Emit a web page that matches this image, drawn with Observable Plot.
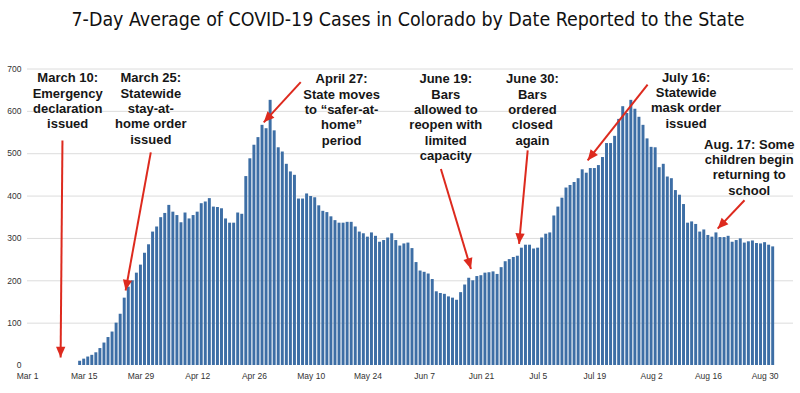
<!DOCTYPE html>
<html><head><meta charset="utf-8">
<script src="https://cdn.jsdelivr.net/npm/d3@7"></script>
<script src="https://cdn.jsdelivr.net/npm/@observablehq/plot@0.6"></script>
<style>
body{margin:0;background:#fff;}
#wrap{width:800px;height:393px;position:relative;overflow:hidden;background:#fff;}
#title{height:40px;position:relative;}
#t{position:absolute;left:408px;top:7px;transform-origin:center;white-space:nowrap;font-family:"DejaVu Sans Condensed","DejaVu Sans",sans-serif;font-size:20px;color:#111;}
#chart svg marker path{stroke:none;}
</style></head><body>
<div id="wrap"><div id="title"><span id="t">7-Day Average of COVID-19 Cases in Colorado by Date Reported to the State</span></div><div id="chart"></div></div>
<script>
const titleText = "7-Day Average of COVID-19 Cases in Colorado by Date Reported to the State";
const firstDay = "2020-03-14";
const cases = [
  10, 15, 20, 24, 30, 40, 53, 66, 79, 100,
  121, 159, 185, 200, 218, 237, 265, 285, 315, 327,
  349, 359, 378, 362, 354, 337, 360, 346, 354, 362,
  382, 386, 394, 374, 373, 370, 346, 336, 336, 360,
  357, 446, 488, 520, 538, 567, 559, 626, 554, 514,
  504, 475, 457, 449, 393, 393, 405, 399, 396, 377,
  364, 361, 351, 342, 336, 336, 338, 338, 327, 315,
  311, 303, 313, 305, 291, 295, 301, 311, 295, 282,
  287, 289, 276, 243, 223, 220, 216, 203, 174, 170,
  168, 162, 159, 154, 172, 190, 206, 200, 210, 212,
  218, 219, 221, 215, 231, 245, 250, 255, 258, 277,
  284, 284, 275, 277, 301, 310, 313, 353, 374, 395,
  419, 425, 432, 441, 462, 454, 465, 465, 472, 491,
  524, 524, 541, 581, 611, 595, 626, 605, 586, 567,
  535, 515, 514, 467, 475, 445, 441, 413, 402, 380,
  336, 339, 333, 315, 320, 307, 303, 313, 302, 302,
  305, 291, 295, 299, 289, 292, 294, 288, 287, 290,
  284, 280
];
const xTickLabels = ["2020-03-01","2020-03-15","2020-03-29","2020-04-12","2020-04-26","2020-05-10","2020-05-24","2020-06-07","2020-06-21","2020-07-05","2020-07-19","2020-08-02","2020-08-16","2020-08-30"];
const yTickValues = [0,100,200,300,400,500,600,700];
const xDomain = ["2020-03-01","2020-09-06"];

const noteLabels = [
  "March 10:\nEmergency\ndeclaration\nissued",
  "March 25:\nStatewide\nstay-at-\nhome order\nissued",
  "April 27:\nState moves\nto \u201csafer-at-\nhome\u201d\nperiod",
  "June 19:\nBars\nallowed to\nreopen with\nlimited\ncapacity",
  "June 30:\nBars\nordered\nclosed\nagain",
  "July 16:\nStatewide\nmask order\nissued",
  "Aug. 17: Some\nchildren begin\nreturning to\nschool"
];
const noteX = ["2020-03-10T22:00Z","2020-03-31T10:00Z","2020-05-17T12:00Z","2020-06-12T05:00Z","2020-07-03T14:00Z","2020-08-10T12:00Z","2020-08-26T02:00Z"];
const noteY = [694, 694, 692, 692, 692, 696, 538];
const arrowFromX = ["2020-03-09T15:00Z","2020-03-31T10:00Z","2020-05-07T10:00Z","2020-06-11T00:00Z","2020-07-02T10:00Z","2020-08-01T00:00Z","2020-08-24T22:00Z"];
const arrowFromY = [531, 503, 669, 464, 508, 663, 390];
const arrowToX = ["2020-03-09T04:00Z","2020-03-25T05:00Z","2020-04-28T07:00Z","2020-06-18T10:00Z","2020-06-30T07:00Z","2020-07-17T05:00Z","2020-08-18T07:00Z"];
const arrowToY = [19, 177, 574, 228, 287, 484, 323];

const start = new Date(firstDay);
const data = cases.map((v, i) => ({date: d3.utcDay.offset(start, i), value: v}));
const notes = noteLabels.map((t, i) => ({text: t, x: new Date(noteX[i]), y: noteY[i]}));
const arrows = arrowFromX.map((x, i) => ({x1: new Date(x), y1: arrowFromY[i], x2: new Date(arrowToX[i]), y2: arrowToY[i]}));
const red = "#dd2a1e";

const chart = Plot.plot({
  width: 800,
  height: 353,
  marginLeft: 27,
  marginRight: 7,
  marginTop: 28.5,
  marginBottom: 28,
  style: {fontFamily: "'Liberation Sans', Arial, sans-serif", fontSize: "8.5px", color: "#333", background: "#fff"},
  x: {type: "utc", domain: xDomain.map(d => new Date(d)), ticks: xTickLabels.map(d => new Date(d)), tickFormat: d3.utcFormat("%b %-d"), tickSize: 0, tickPadding: 7, label: null},
  y: {domain: [0, 700], ticks: yTickValues, tickSize: 0, tickPadding: 6, label: null},
  marks: [
    Plot.ruleY(yTickValues.filter(v => v > 0), {stroke: "#dcdcdc", strokeWidth: 1}),
    Plot.rect(data, {
      x1: d => d3.utcHour.offset(d.date, -12),
      x2: d => d3.utcHour.offset(d.date, 12),
      y1: 0, y2: "value",
      fill: "#3d6ea5", insetLeft: 0.5, insetRight: 0.6
    }),
    Plot.link(arrows, {x1: "x1", y1: "y1", x2: "x2", y2: "y2", stroke: red, strokeWidth: 2, markerEnd: "arrow"}),
    Plot.text(notes, {x: "x", y: "y", text: "text", lineAnchor: "top", textAnchor: "middle",
      fontWeight: "bold", fontSize: 13, lineHeight: 1.18, fill: "#161616",
      fontFamily: "'Liberation Sans', Arial, sans-serif"})
  ]
});
document.getElementById("chart").appendChild(chart);
chart.querySelectorAll("marker").forEach(m => {
  m.setAttribute("viewBox", "-9 -5 10 10");
  m.setAttribute("fill", red);
  const p = m.querySelector("path");
  if (p) { p.setAttribute("d", "M-8,-3.5L0,0L-8,3.5Z"); p.setAttribute("fill", red); }
});
const t = document.getElementById("t");
t.textContent = titleText;
const w = t.getBoundingClientRect().width;
t.style.transform = `translateX(-50%) scaleX(${673 / w})`;
</script>
</body></html>
